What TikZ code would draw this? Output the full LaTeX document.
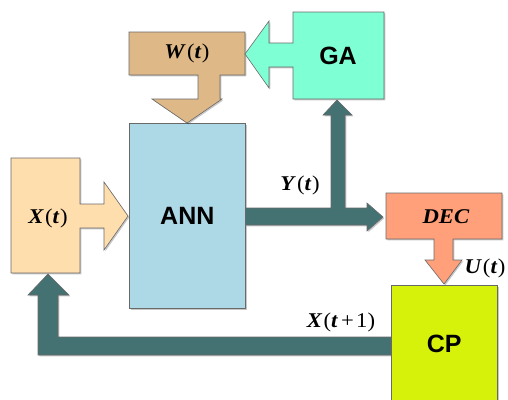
\documentclass[tikz,border=0pt]{standalone}
\usepackage{fontspec}
\usepackage{graphicx}
\setmainfont{Liberation Serif}
\newfontfamily\arialfont{Liberation Sans}
\usetikzlibrary{shadows}
\definecolor{wcol}{RGB}{222,184,135}
\definecolor{gacol}{RGB}{127,255,212}
\definecolor{xcol}{RGB}{255,222,173}
\definecolor{anncol}{RGB}{173,216,230}
\definecolor{deccol}{RGB}{255,160,122}
\definecolor{cpcol}{RGB}{214,242,10}
\definecolor{darkcol}{RGB}{68,114,114}
\definecolor{edgecol}{RGB}{105,105,105}
\newcommand{\mbi}[1]{\textbf{\textit{#1}}}
\newcommand{\lbltext}[1]{\scalebox{1.08}[1]{#1}}
\begin{document}
\begin{tikzpicture}[x=1pt,y=-1pt,
  blk/.style={draw=edgecol, line width=0.6pt, line join=miter,
    drop shadow={shadow xshift=1.3pt, shadow yshift=-1.3pt, opacity=0.22, fill=black}},
  darkarrow/.style={blk, fill=darkcol},
  lbl/.style={inner sep=0pt, font=\fontsize{21}{21}\selectfont},
  big/.style={font=\arialfont\bfseries\fontsize{25}{25}\selectfont, inner sep=0pt}]
\useasboundingbox (0,0) rectangle (508,399);

% boxes as nodes
\node[blk, fill=anncol, minimum width=116pt, minimum height=185pt, inner sep=0pt, anchor=north west, big] (ann) at (129,123) {ANN};
\node[blk, fill=cpcol, minimum width=106pt, minimum height=117pt, inner sep=0pt, anchor=north west, big] (cp) at (391,285) {CP};

% dark connectors (drawn as block arrows)
\draw[darkarrow] (ann.east |- 0,208) -- (331,208) -- (331,115) -- (323,115) -- (337,100)
  -- (352,115) -- (345,115) -- (345,208) -- (367,208) -- (367,203) -- (383,217)
  -- (367,231) -- (367,225) -- (ann.east |- 0,225) -- cycle;
\draw[darkarrow] (cp.west |- 0,337) -- (58,337) -- (58,295) -- (69,295) -- (48,274)
  -- (28,295) -- (38,295) -- (38,355) -- (cp.west |- 0,355) -- cycle;

% redraw boxes on top of connector ends
\node[draw=edgecol, line width=0.6pt, fill=anncol, minimum width=116pt, minimum height=185pt, inner sep=0pt, anchor=north west, big] at (129,123) {ANN};
\node[draw=edgecol, line width=0.6pt, fill=cpcol, minimum width=106pt, minimum height=117pt, inner sep=0pt, anchor=north west, big] at (391,285) {CP};

% callouts
\draw[blk, fill=wcol] (129,32) -- (245,32) -- (245,75) -- (220,75) -- (220,99) -- (222,99)
  -- (187,123) -- (152,99) -- (198,99) -- (198,75) -- (129,75) -- cycle;
\draw[blk, fill=gacol] (293,12) -- (384,12) -- (384,99) -- (293,99) -- (293,67) -- (269,67)
  -- (269,88) -- (245,54) -- (269,21) -- (269,43) -- (293,43) -- cycle;
\draw[blk, fill=xcol] (11,158) -- (80,158) -- (80,204) -- (104,204) -- (104,182) -- (128,216)
  -- (104,250) -- (104,228) -- (80,228) -- (80,273) -- (11,273) -- cycle;
\draw[blk, fill=deccol] (386,193) -- (502,193) -- (502,239) -- (453,239) -- (453,260)
  -- (462,260) -- (444,284) -- (425,260) -- (434,260) -- (434,239) -- (386,239) -- cycle;

% labels
\node[big] (ga) at (338,56) {GA};
\node[lbl] (wt) at (187,53) {\lbltext{\mbi{W}\kern1pt(\mbi{t}\kern0.5pt)}};
\node[lbl] (xt) at (48,218) {\lbltext{\mbi{X}\kern1pt(\mbi{t}\kern0.5pt)}};
\node[lbl] (yt) at (300,185) {\lbltext{\mbi{Y}\kern1pt(\mbi{t}\kern0.5pt)}};
\node[lbl] (dec) at (446,217) {\lbltext{\mbi{DEC}}};
\node[lbl] (ut) at (485,268) {\lbltext{\mbi{U}\kern1pt(\mbi{t}\kern0.5pt)}};
\node[lbl] (xt1) at (341,322) {\lbltext{\mbi{X}\kern1pt(\mbi{t}\kern3pt+\kern2pt1)}};
\end{tikzpicture}
\end{document}
